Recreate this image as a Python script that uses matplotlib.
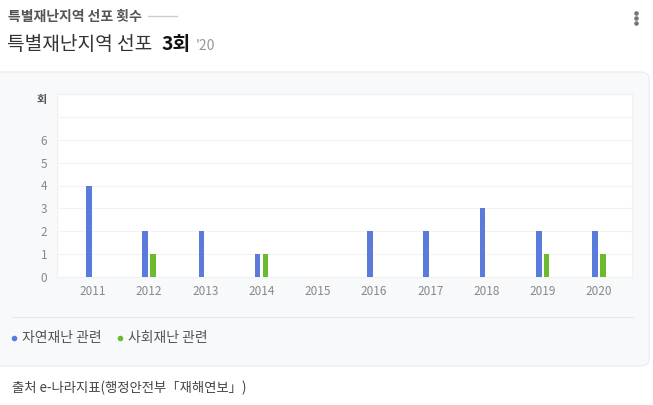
import matplotlib
matplotlib.use('Agg')
import matplotlib.pyplot as plt
from matplotlib.patches import FancyBboxPatch
from matplotlib.lines import Line2D
import numpy as np

plt.rcParams['font.family'] = ['Noto Sans CJK KR', 'DejaVu Sans']

years = ['2011', '2012', '2013', '2014', '2015', '2016', '2017', '2018', '2019', '2020']
natural = [4, 2, 2, 1, 0, 2, 2, 3, 2, 2]
social = [0, 1, 0, 1, 0, 0, 0, 0, 1, 1]
series_names = ['자연재난 관련', '사회재난 관련']
series_colors = ['#5b7bdc', '#6cbb2e']

W, H = 653, 405


def px(x, y):
    return x / W, 1 - y / H


fig = plt.figure(figsize=(W / 100, H / 100), dpi=100)
fig.patch.set_facecolor('white')

# card background
card = FancyBboxPatch(px(-10, 366), (659) / W, (366 - 72) / H,
                      boxstyle='round,pad=0,rounding_size=0.015',
                      transform=fig.transFigure, facecolor='#f8f9fb',
                      edgecolor='#eceef1', linewidth=1, zorder=-5)
fig.patches.append(card)

# header texts
fig.text(*px(8, 17), '특별재난지역 선포 횟수', fontsize=10, fontweight='bold',
         color='#555555', va='center', ha='left')
fig.lines.append(Line2D([148 / W, 177 / W], [1 - 16 / H, 1 - 16 / H],
                        transform=fig.transFigure, color='#cccccc', lw=1))
fig.text(*px(7, 44), '특별재난지역 선포', fontsize=13.8, color='#333333',
         va='center', ha='left')
fig.text(*px(161, 44), '3회', fontsize=13.8, fontweight='bold', color='#111111',
         va='center', ha='left')
fig.text(*px(196, 46), "'20", fontsize=10, color='#999999', va='center', ha='left')

# kebab menu
for yy in (13, 18, 23):
    fig.lines.append(Line2D([636 / W], [1 - yy / H], transform=fig.transFigure,
                            marker='o', markersize=2.3, color='#777777', lw=0))

# plot area
left, right, top, bottom = 57, 632, 94, 277
ax = fig.add_axes([left / W, 1 - bottom / H, (right - left) / W, (bottom - top) / H])
ax.set_facecolor('white')

x = np.arange(len(years))
bw = 0.1
ax.bar(x - 0.07, natural, width=bw, color=series_colors[0], zorder=3)
ax.bar(x + 0.07, social, width=bw, color=series_colors[1], zorder=3)

ax.set_xlim(-0.64, 9.59)
ax.set_ylim(0, 8)
ax.set_yticks(range(0, 9))
ax.set_yticklabels([str(i) if i <= 6 else '' for i in range(0, 9)])
ax.set_xticks(x)
ax.set_xticklabels(years)
ax.grid(axis='y', color='#f2f3f5', lw=0.8, zorder=0)
ax.tick_params(axis='both', length=0, labelsize=8.5, labelcolor='#888888')
ax.tick_params(axis='y', pad=7)
ax.tick_params(axis='x', pad=6)
for s in ax.spines.values():
    s.set_color('#f0f1f3')
    s.set_linewidth(0.8)

fig.text(*px(42, 99), '회', fontsize=8, fontweight='bold', color='#555555',
         va='center', ha='center')

# separator
fig.lines.append(Line2D([12 / W, 633 / W], [1 - 317 / H, 1 - 317 / H],
                        transform=fig.transFigure, color='#e6e8eb', lw=0.8))

# legend
legend_x = [14, 120]
for name, col, lx in zip(series_names, series_colors, legend_x):
    fig.lines.append(Line2D([lx / W], [1 - 338 / H], transform=fig.transFigure,
                            marker='o', markersize=3, color=col, lw=0))
    fig.text(*px(lx + 8, 338), name, fontsize=10, color='#555555',
             va='center', ha='left')

# source
fig.text(*px(12, 388), '출처 e-나라지표(행정안전부「재해연보」)', fontsize=9.6,
         color='#444444', va='center', ha='left')

fig.savefig('out.png', dpi=100, facecolor='white')
